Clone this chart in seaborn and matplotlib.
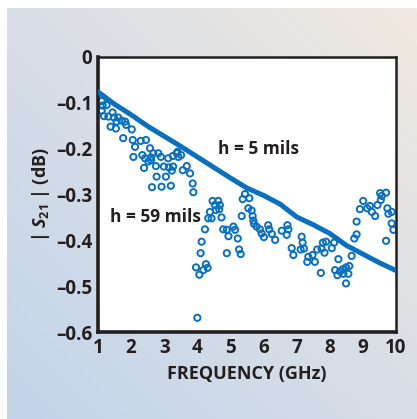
import numpy as np
import pandas as pd
import matplotlib
matplotlib.use("Agg")
import matplotlib.pyplot as plt
import seaborn as sns
from matplotlib.colors import LinearSegmentedColormap

# ---- data ----
# h = 5 mils (solid line)
freq_5 = [1.0, 1.5, 2.0, 2.5, 3.0, 3.5, 4.0, 4.5, 5.0, 5.5, 6.0, 6.5, 7.0, 7.5, 8.0, 8.5, 9.0, 9.5, 10.0]
s21_5 = [-0.076, -0.103, -0.126, -0.151, -0.173, -0.195, -0.218, -0.241, -0.264, -0.286,
         -0.302, -0.321, -0.349, -0.366, -0.385, -0.411, -0.430, -0.449, -0.466]

# h = 59 mils (open circles)
freq_59 = [1.11, 1.14, 1.26, 1.11, 1.18, 1.31, 1.44, 1.48, 1.61, 1.56, 1.72, 1.82, 1.38, 1.54,
           1.85, 2.02, 1.76, 2.05, 2.12, 2.29, 2.45, 2.57, 2.07, 2.34, 2.42, 2.60, 2.67, 2.82,
           2.90, 2.75, 2.39, 2.52, 2.60, 3.12, 3.26, 3.38, 3.43, 3.40, 3.51, 3.68, 3.56, 2.99,
           3.14, 3.27, 3.23, 2.77, 3.05, 2.63, 2.92, 3.20, 3.86, 3.88, 3.78,
           4.46, 4.63, 4.53, 4.68, 4.56, 4.66, 4.38, 4.43, 4.33, 4.23, 4.73, 4.78, 4.89, 4.94,
           5.09, 5.14, 5.22, 4.13, 4.10, 4.89, 5.26, 5.31, 3.96, 4.06, 4.18, 4.26, 4.31, 4.00,
           5.34, 5.37, 5.44, 5.57, 5.54, 5.64, 5.67, 5.69, 5.71, 5.79, 5.89, 5.94, 6.01, 6.14,
           6.17, 6.25, 6.35, 6.55, 6.72, 6.75, 6.70, 6.85, 6.90,
           7.15, 7.18, 7.12, 7.22, 7.35, 7.32, 7.48, 7.55, 7.62, 7.75, 7.79, 7.89, 7.84, 7.73,
           8.06, 8.13, 8.26, 8.16, 8.23, 8.31, 8.41, 8.39, 8.49, 8.56, 8.59, 8.49, 8.66, 8.74,
           8.81, 8.81, 8.91, 9.01, 9.13, 9.21, 9.27, 9.37, 9.44, 9.54, 9.52, 9.57, 9.70, 9.74,
           9.77, 9.87, 9.87, 9.92, 9.70]
s21_59 = [-0.096, -0.106, -0.105, -0.117, -0.129, -0.130, -0.121, -0.132, -0.132, -0.141, -0.139,
          -0.141, -0.152, -0.156, -0.148, -0.158, -0.177, -0.181, -0.196, -0.183, -0.181, -0.199,
          -0.218, -0.214, -0.221, -0.219, -0.210, -0.210, -0.218, -0.238, -0.242, -0.228, -0.225,
          -0.221, -0.216, -0.210, -0.218, -0.207, -0.214, -0.238, -0.247, -0.239, -0.241, -0.239,
          -0.248, -0.261, -0.261, -0.284, -0.283, -0.281, -0.276, -0.295, -0.254,
          -0.314, -0.314, -0.323, -0.323, -0.334, -0.332, -0.338, -0.352, -0.352, -0.376, -0.350,
          -0.376, -0.377, -0.391, -0.370, -0.377, -0.396, -0.403, -0.428, -0.428, -0.420, -0.430,
          -0.459, -0.475, -0.465, -0.452, -0.460, -0.569,
          -0.347, -0.310, -0.299, -0.308, -0.330, -0.335, -0.347, -0.357, -0.364, -0.370, -0.376,
          -0.385, -0.393, -0.367, -0.376, -0.386, -0.399, -0.379, -0.367, -0.376, -0.388, -0.417,
          -0.432,
          -0.392, -0.405, -0.420, -0.418, -0.436, -0.447, -0.432, -0.447, -0.420, -0.418, -0.405,
          -0.403, -0.427, -0.471, -0.417, -0.405, -0.441, -0.465, -0.476, -0.468, -0.473, -0.463,
          -0.459, -0.473, -0.456, -0.494, -0.434, -0.396, -0.387, -0.359, -0.332, -0.314, -0.330,
          -0.325, -0.338, -0.347, -0.323, -0.312, -0.297, -0.303, -0.296, -0.330, -0.342, -0.338,
          -0.363, -0.377, -0.401]

x_ticks = [1, 2, 3, 4, 5, 6, 7, 8, 9, 10]
y_ticks = [0, -0.1, -0.2, -0.3, -0.4, -0.5, -0.6]

line_df = pd.DataFrame({"freq": freq_5, "s21": s21_5})
pts_df = pd.DataFrame({"freq": freq_59, "s21": s21_59})

# ---- style ----
sns.set_theme(style="white")
plt.rcParams.update({
    "font.family": ["Open Sans", "DejaVu Sans"],
    "font.weight": "bold",
    "mathtext.fontset": "custom",
    "mathtext.rm": "Open Sans:bold",
    "mathtext.it": "Open Sans:bold:italic",
    "mathtext.bf": "Open Sans:bold",
})
blue = "#0a6fbd"
ink = "#231f20"

W, H = 417, 419
fig = plt.figure(figsize=(W / 100, H / 100), dpi=100)
fig.patch.set_facecolor("white")

# gradient backdrop panel (blue bottom-left -> beige top-right)
bg = fig.add_axes([7 / W, 0, (W - 7) / W, (H - 8) / H], zorder=-5)
gx, gy = np.meshgrid(np.linspace(0, 1, 200), np.linspace(1, 0, 200))
t = 0.5 * gx + 0.5 * gy
cmap = LinearSegmentedColormap.from_list("bg", ["#c2d4eb", "#d8dee6", "#f1e9e0"])
bg.imshow(t, cmap=cmap, aspect="auto", extent=[0, 1, 0, 1], vmin=0, vmax=1)
bg.axis("off")

ax = fig.add_axes([98 / W, 87 / H, 298 / W, 275 / H])
ax.set_facecolor("white")

sns.lineplot(data=line_df, x="freq", y="s21", color=blue, linewidth=3.6, ax=ax, zorder=3)
sns.scatterplot(data=pts_df, x="freq", y="s21", marker="o", s=20, facecolor="none",
                edgecolor=blue, linewidth=1.4, ax=ax, zorder=2)

ax.set_xlim(1, 10)
ax.set_ylim(-0.6, 0)
ax.set_xticks(x_ticks)
ax.set_yticks(y_ticks)
ax.set_xticklabels([str(v) for v in x_ticks])
ax.set_yticklabels(["0" if v == 0 else f"\u2013{abs(v):.1f}" for v in y_ticks])
ax.tick_params(axis="both", direction="in", length=6, width=1.5, colors=ink,
               labelsize=13.5)
ax.tick_params(axis="x", pad=4)
ax.tick_params(axis="y", pad=4)
for lab in ax.get_xticklabels() + ax.get_yticklabels():
    lab.set_fontweight("bold")

for side in ["left", "bottom"]:
    ax.spines[side].set_linewidth(2.6)
for side in ["top", "right"]:
    ax.spines[side].set_linewidth(1.8)
for sp in ax.spines.values():
    sp.set_color(ink)
    sp.set_visible(True)

ax.set_xlabel("FREQUENCY (GHz)", fontsize=13, fontweight="bold", color=ink, labelpad=5)
ax.set_ylabel(r"$|\;S_{21}\;|$ (dB)", fontsize=13, fontweight="bold", color=ink, labelpad=3)

ax.text(5.85, -0.201, "h = 5 mils", fontsize=12.5, fontweight="bold", color=ink,
        ha="center", va="center")
ax.text(2.72, -0.349, "h = 59 mils", fontsize=12.5, fontweight="bold", color=ink,
        ha="center", va="center")

fig.savefig("out.png", dpi=100)
